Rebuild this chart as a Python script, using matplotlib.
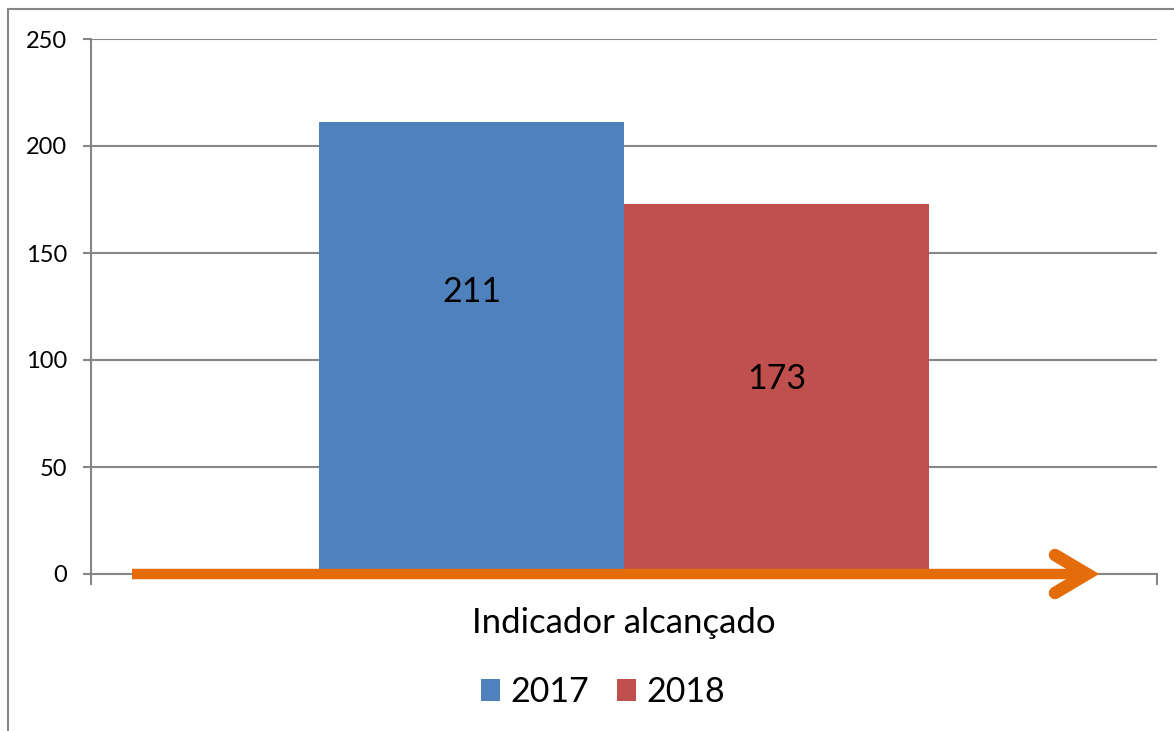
import matplotlib.pyplot as plt
from matplotlib.patches import Rectangle

# dados do gráfico
category = 'Indicador alcançado'
series = ['2017', '2018']
values = [211, 173]
colors = ['#4F81BD', '#C0504D']
yticks = [0, 50, 100, 150, 200, 250]

plt.rcParams['font.family'] = ['Lato', 'DejaVu Sans']

fig = plt.figure(figsize=(11.74, 7.31), dpi=100)
ax = fig.add_axes([91/1174, 1 - 574/731, (1157 - 91)/1174, (574 - 39)/731])

# largura das barras estilo Excel (gap 150%)
w = 1 / (len(values) + 1.5)
xs = [(i - (len(values) - 1) / 2) * w for i in range(len(values))]
bars = []
for x, v, c, s in zip(xs, values, colors, series):
    bars.append(ax.bar(x, v, width=w, color=c, label=s, zorder=2))

# rótulos (posicionados à mão como no original)
label_y = [132, 91]
for x, v, ly in zip(xs, values, label_y):
    ax.text(x, ly, str(v), ha='center', va='center', fontsize=24.5, zorder=4)

ax.set_xlim(-0.5, 0.5)
ax.set_ylim(0, 250)
ax.set_yticks(yticks)
ax.set_yticklabels([str(t) for t in yticks], fontsize=17)
ax.set_xticks([-0.5, 0.5])
ax.set_xticklabels(['', ''])
ax.tick_params(axis='x', direction='out', length=8, width=1.5, color='#868686')
ax.tick_params(axis='y', direction='out', length=6, width=1.5, color='#868686', pad=11)
ax.yaxis.grid(True, color='#868686', linewidth=1.5, zorder=0)
ax.set_axisbelow(True)
for side in ['top', 'right']:
    ax.spines[side].set_visible(False)
ax.spines['left'].set_color('#868686')
ax.spines['left'].set_linewidth(1.5)
ax.spines['bottom'].set_color('#868686')
ax.spines['bottom'].set_linewidth(1.5)
ax.spines['left'].set_bounds(0, 250)

ax.set_xlabel(category, fontsize=25, labelpad=12)

# seta laranja sobre o eixo (forma desenhada, em fração dos eixos)
orange = '#E46C0A'
ax.plot([0.0385, 0.930], [0, 0], transform=ax.transAxes, color=orange, lw=7.5,
        solid_capstyle='butt', zorder=5, clip_on=False)
ax.plot([0.9043, 0.9343, 0.9043], [0.0355, 0, -0.0355], transform=ax.transAxes,
        color=orange, lw=9, solid_capstyle='round', solid_joinstyle='miter',
        zorder=5, clip_on=False)

fig.legend(handles=[b[0] for b in bars], labels=series, loc='center',
           bbox_to_anchor=(603/1174, 1 - 692/731), ncol=2, frameon=False,
           fontsize=24.5, handlelength=0.58, handleheight=0.58, handletextpad=0.3,
           columnspacing=0.8)

# borda da figura
fig.patches.append(Rectangle((8/1174, -0.1), 1.2, 1 - 9/731 + 0.1, transform=fig.transFigure,
                             fill=False, edgecolor='#868686', linewidth=1.5))

fig.savefig('out.png', dpi=100)
